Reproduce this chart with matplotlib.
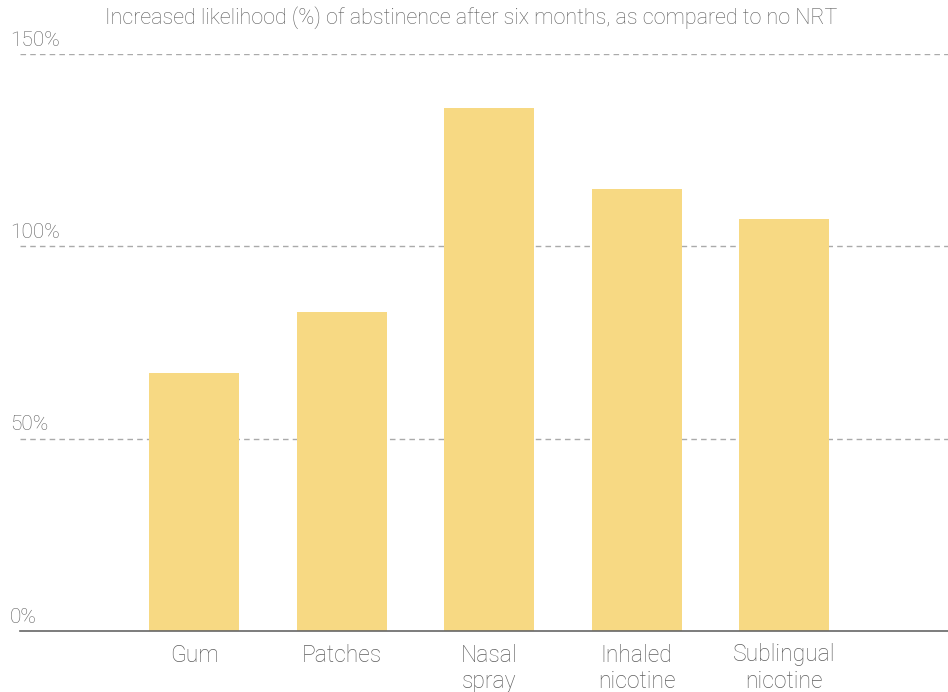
import matplotlib.pyplot as plt
from matplotlib.transforms import offset_copy

plt.rcParams['font.family'] = ['Roboto', 'DejaVu Sans']

categories = ["Gum", "Patches", "Nasal\nspray", "Inhaled\nnicotine", "Sublingual\nnicotine"]
values = [67, 83, 136, 115, 107]
ytick_values = [0, 50, 100, 150]
ytick_labels = ["0%", "50%", "100%", "150%"]
title = "Increased likelihood (%) of abstinence after six months, as compared to no NRT"

text_color = "#5e5e5e"
bar_color = "#F7D983"

fig = plt.figure(figsize=(9.48, 6.92), dpi=100)
ax = fig.add_axes([20 / 948, 1 - 631 / 692, 928 / 948, 577 / 692])

x = list(range(len(categories)))
ax.bar(x, values, width=0.61, color=bar_color, zorder=2)

ax.set_xlim(-1.18, 5.11)
ax.set_ylim(0, 150)

for v in ytick_values[1:]:
    ax.axhline(v, color="#aaaaaa", linestyle=(0, (4, 3)), linewidth=1, zorder=1)
ax.axhline(0, color="#666666", linewidth=1.2, zorder=3, clip_on=False)

for s in ax.spines.values():
    s.set_visible(False)

ax.set_yticks([])
trans = offset_copy(ax.get_yaxis_transform(), fig=fig, x=0, y=3, units="points")
for v, lab in zip(ytick_values, ytick_labels):
    ax.text(-0.0108, v, lab, transform=trans, ha="left", va="bottom",
            fontsize=15, color=text_color, fontweight="light")

ax.set_xticks(x)
ax.set_xticklabels(categories, fontsize=16.5, color=text_color, fontweight="light",
                   linespacing=1.2)
ax.tick_params(axis="x", length=0, pad=9)

fig.text(0.497, 1 - 18 / 692, title, ha="center", va="center", fontsize=15.5,
         color=text_color, fontweight="light")

fig.savefig("out.png", dpi=100)
